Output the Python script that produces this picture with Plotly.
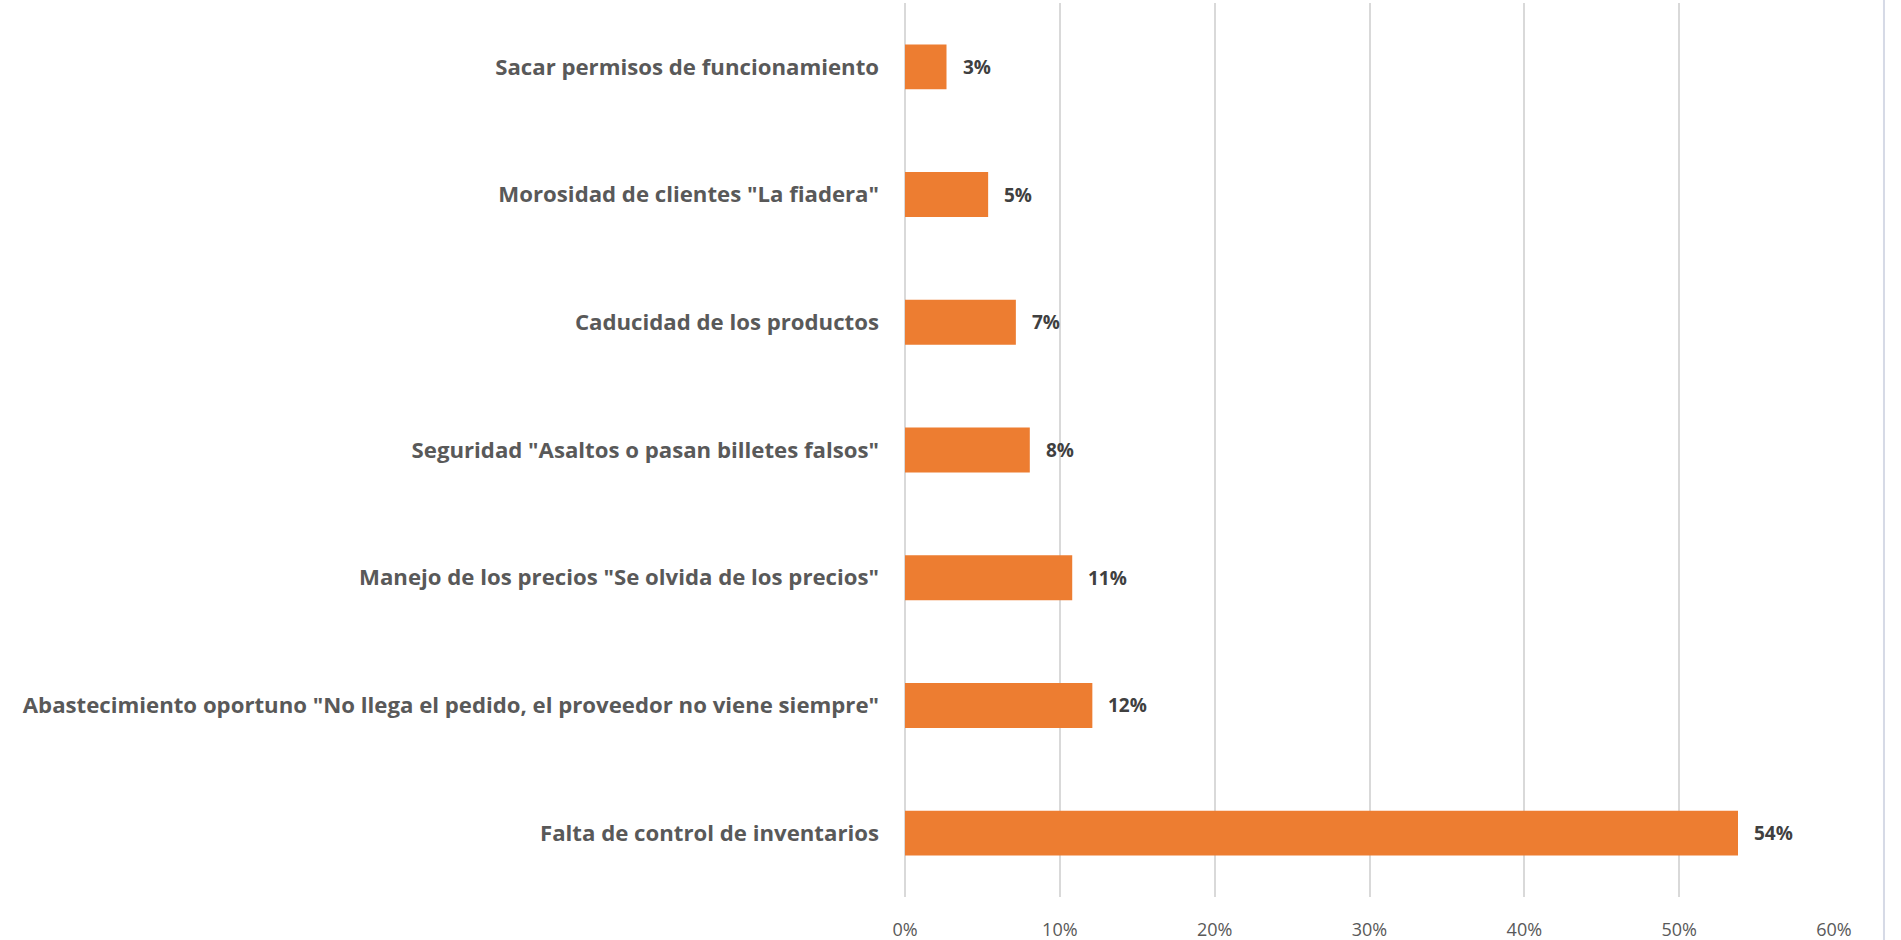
import plotly.graph_objects as go

categories = [
    "Falta de control de inventarios",
    "Abastecimiento oportuno \"No llega el pedido, el proveedor no viene siempre\"",
    "Manejo de los precios \"Se olvida de los precios\"",
    "Seguridad \"Asaltos o pasan billetes falsos\"",
    "Caducidad de los productos",
    "Morosidad de clientes \"La fiadera\"",
    "Sacar permisos de funcionamiento",
]
values = [0.538, 0.121, 0.108, 0.0806, 0.0716, 0.0537, 0.0268]
value_labels = ["54%", "12%", "11%", "8%", "7%", "5%", "3%"]
tick_vals = [0, 0.1, 0.2, 0.3, 0.4, 0.5, 0.6]
tick_text = ["0%", "10%", "20%", "30%", "40%", "50%", "60%"]

FONT = "Open Sans"

fig = go.Figure()
fig.add_trace(go.Bar(
    x=values,
    y=categories,
    orientation="h",
    marker=dict(color="#ED7D31", line=dict(width=0)),
    width=0.352,
    hoverinfo="skip",
))

for v, c, t in zip(values, categories, value_labels):
    fig.add_annotation(
        x=v, y=c, text="<b>%s</b>" % t, showarrow=False,
        xanchor="left", yanchor="middle", xshift=14,
        font=dict(family=FONT, size=19, color="#404040"),
    )

fig.add_shape(type="line", xref="paper", yref="paper",
              x0=1.0538, x1=1.0538, y0=-0.06, y1=1.01,
              line=dict(color="#D6DAE6", width=2))

fig.update_layout(
    width=1901, height=940,
    margin=dict(l=905, r=67, t=3, b=43, autoexpand=False),
    plot_bgcolor="white", paper_bgcolor="white",
    showlegend=False,
    xaxis=dict(
        range=[0, 0.6], tickvals=tick_vals, ticktext=tick_text,
        showgrid=True, gridcolor="#D9D9D9", gridwidth=2,
        zeroline=True, zerolinecolor="#D9D9D9", zerolinewidth=2,
        showline=False,
        tickfont=dict(family=FONT, size=18, color="#595959"),
        ticklabelstandoff=20,
    ),
    yaxis=dict(
        categoryorder="array", categoryarray=categories,
        showgrid=False, zeroline=False, showline=False,
        tickfont=dict(family=FONT, size=22.2, color="#595959", weight="bold"),
        ticklabelstandoff=25,
    ),
)

fig.write_html("out.html", config={"displayModeBar": False},
               post_script="document.body.style.margin='0';")
